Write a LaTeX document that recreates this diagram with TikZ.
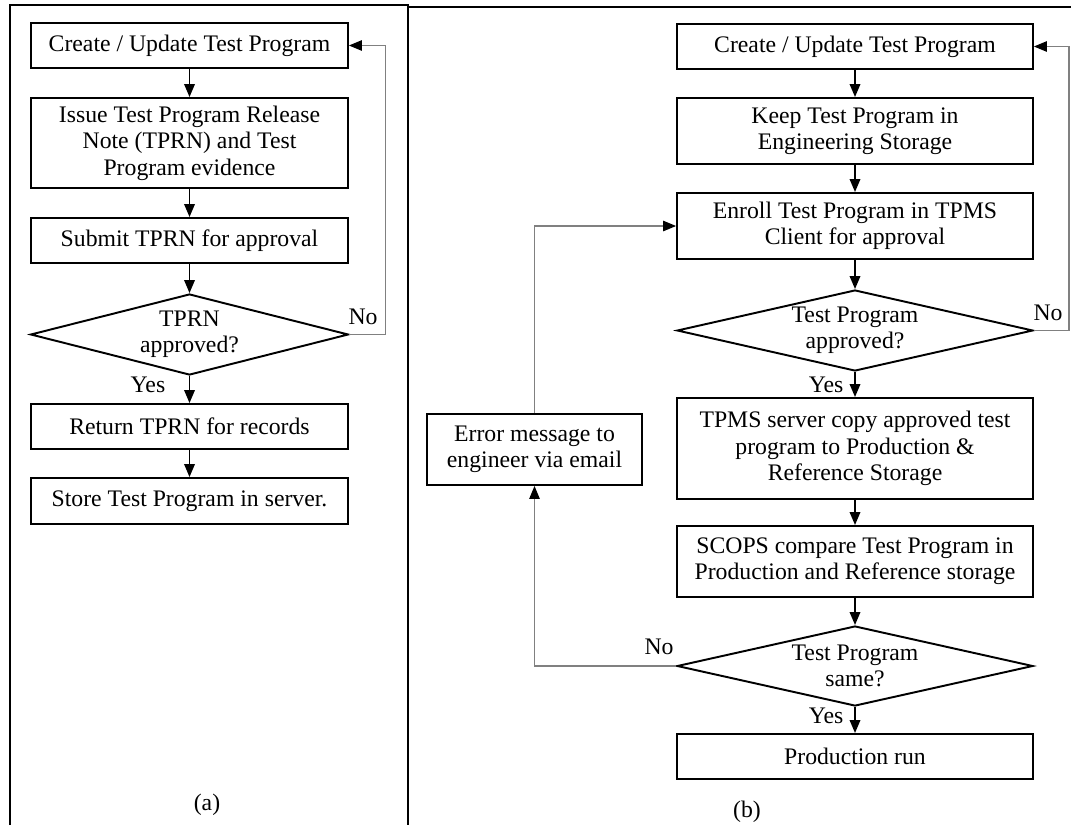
\documentclass[tikz,border=0pt]{standalone}
\usepackage{fontspec}
\setmainfont{Liberation Serif}
\usetikzlibrary{shapes.geometric,arrows.meta}

\begin{document}
\begin{tikzpicture}[x=0.02cm,y=-0.02cm,
    font=\fontsize{13.5}{15}\selectfont,
    box/.style={draw,line width=1.1pt,align=center,inner sep=0pt},
    dec/.style={draw,diamond,aspect=4,line width=1.1pt,align=center,inner sep=0pt},
    arr/.style={line width=1.05pt,-{Triangle[length=0.26cm,width=0.21cm]}},
    back/.style={draw=gray,line width=0.65pt,-{Triangle[length=0.26cm,width=0.21cm,color=black]}}]
        \useasboundingbox (0,0) rectangle (1071,825);
        % frames
        \draw[line width=1.5pt] (10,825) -- (10,5) -- (408,5) -- (408,825);
        \draw[line width=1.3pt] (408,7) -- (1071,7);
        % (a)
        \def\wa{6.34cm}
        \node[box,minimum width=\wa,minimum height=0.9cm] (A0) at (189.5,45.5) {Create / Update Test Program};
        \node[box,minimum width=\wa,minimum height=1.8cm] (A1) at (189.5,143) {Issue Test Program Release\\Note (TPRN) and Test\\Program evidence};
        \node[box,minimum width=\wa,minimum height=0.9cm] (A2) at (189.5,240.5) {Submit TPRN for approval};
        \node[dec,minimum width=6.36cm,minimum height=1.62cm] (A3) at (189.5,334.5) {TPRN\\approved?};
        \node[box,minimum width=\wa,minimum height=0.9cm] (A4) at (189.5,426.5) {Return TPRN for records};
        \node[box,minimum width=\wa,minimum height=0.92cm] (A5) at (189.5,501) {Store Test Program in server.};
        \node (A3y) at (148,385) {Yes};
        \node (A3n) at (363,317) {No};
        \node (Acap) at (207,805) {(a)};
        \path (A0) edge [arr] (A1);
        \path (A1) edge [arr] (A2);
        \path (A2) edge [arr] (A3);
        \path (A3) edge [arr] (A4);
        \path (A4) edge [arr] (A5);
        \draw[back] (A3.east) -- ++(36,0) |- (A0.east);
        % (b)
        \def\wb{7.12cm}
        \node[box,minimum width=\wb,minimum height=0.9cm] (B0) at (855,46.5) {Create / Update Test Program};
        \node[box,minimum width=\wb,minimum height=1.32cm] (B1) at (855,131) {Keep Test Program in\\Engineering Storage};
        \node[box,minimum width=\wb,minimum height=1.32cm] (B2) at (855,226) {Enroll Test Program in TPMS\\Client for approval};
        \node[dec,minimum width=\wb,minimum height=1.62cm] (B3) at (855,330.5) {Test Program\\approved?};
        \node[box,minimum width=\wb,minimum height=2.02cm] (B4) at (855,448.5) {TPMS server copy approved test\\program to Production \&\\Reference Storage};
        \node[box,minimum width=\wb,minimum height=1.42cm] (B5) at (855,561.5) {SCOPS compare Test Program in\\Production and Reference storage};
        \node[dec,minimum width=\wb,minimum height=1.6cm] (B6) at (855,666) {Test Program\\same?};
        \node[box,minimum width=\wb,minimum height=0.9cm] (B7) at (855,756.5) {Production run};
        \node[box,minimum width=4.3cm,minimum height=1.42cm] (E) at (534.5,449.5) {Error message to\\engineer via email};
        \node (B3y) at (826,385) {Yes};
        \node (B3n) at (1048,313) {No};
        \node (B6n) at (659,647) {No};
        \node (B6y) at (826,716) {Yes};
        \node (Bcap) at (747,812) {(b)};
        \path (B0) edge [arr] (B1);
        \path (B1) edge [arr] (B2);
        \path (B2) edge [arr] (B3);
        \path (B3) edge [arr] (B4);
        \path (B4) edge [arr] (B5);
        \path (B5) edge [arr] (B6);
        \path (B6) edge [arr] (B7);
        \draw[back] (B3.east) -- ++(35,0) |- (B0.east);
        \draw[back] (B6.west) -| (E.south);
        \draw[back] (E.north) |- (B2.west);
\end{tikzpicture}
\end{document}
